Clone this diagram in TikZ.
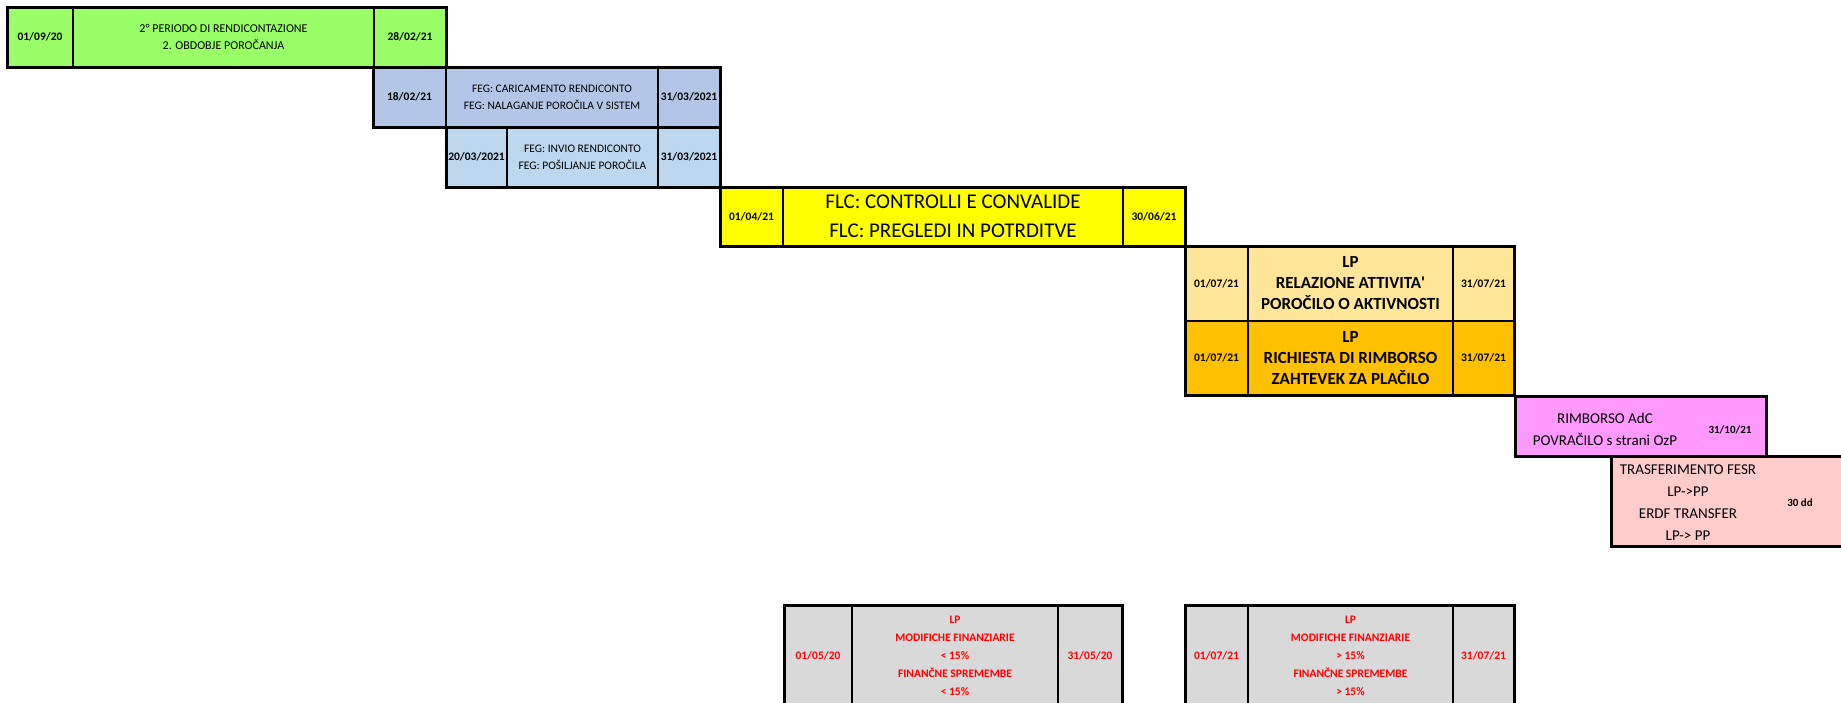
\documentclass[tikz,border=0pt]{standalone}
\usepackage{fontspec}
\setmainfont{Carlito}
\usetikzlibrary{positioning, fit}

\definecolor{cgreen}{HTML}{99FF66}
\definecolor{cblueA}{HTML}{B4C6E7}
\definecolor{cblueB}{HTML}{BDD7EE}
\definecolor{cyellow}{HTML}{FFFF00}
\definecolor{clorange}{HTML}{FFE699}
\definecolor{corange}{HTML}{FFC000}
\definecolor{cpink}{HTML}{FF99FF}
\definecolor{csalmon}{HTML}{FFCCCC}
\definecolor{cgrey}{HTML}{D9D9D9}
\definecolor{cred}{HTML}{FF0000}

\begin{document}
\begin{tikzpicture}[
  x=1pt, y=-1pt,
  cell/.style={draw, line width=1.5pt, inner sep=0pt, outer sep=0pt, align=center},
  frame/.style={draw, line width=3pt, inner sep=0pt},
  dat/.style={font=\fontsize{11.5}{14}\selectfont\bfseries},
  smalltxt/.style={font=\fontsize{11.5}{17}\selectfont},
  bigtxt/.style={font=\fontsize{21}{29}\selectfont},
  boldtxt/.style={font=\fontsize{17}{21}\selectfont\bfseries},
  midtxt/.style={font=\fontsize{15}{21.5}\selectfont},
  redtxt/.style={font=\fontsize{11.5}{18}\selectfont\bfseries, text=cred},
  greencell/.style={cell, fill=cgreen, minimum height=60pt},
  bluecellA/.style={cell, fill=cblueA, minimum height=60pt},
  bluecellB/.style={cell, fill=cblueB, minimum height=60pt},
  yellowcell/.style={cell, fill=cyellow, minimum height=59pt},
  lorangecell/.style={cell, fill=clorange, minimum height=75pt},
  orangecell/.style={cell, fill=corange, minimum height=74pt},
  greycell/.style={cell, fill=cgrey, minimum height=102pt}
]
\useasboundingbox (0,0) rectangle (1841,702);
\clip (0,0) rectangle (1841,702);

% reporting period
\node[greencell, dat, minimum width=66pt, anchor=north west] (g1) at (7,7) {01/09/20};
\node[greencell, font=\fontsize{12}{17}\selectfont, minimum width=301pt, right=0pt of g1] (g2) {2° PERIODO DI RENDICONTAZIONE\\2. OBDOBJE POROČANJA};
\node[greencell, dat, minimum width=72pt, right=0pt of g2] (g3) {28/02/21};
\node[frame, fit=(g1)(g3)] {};

% FEG upload
\node[bluecellA, dat, minimum width=73pt, anchor=north east] (b1) at (g3.south east) {18/02/21};
\node[bluecellA, smalltxt, minimum width=212pt, right=0pt of b1] (b2) {FEG: CARICAMENTO RENDICONTO\\FEG: NALAGANJE POROČILA V SISTEM};
\node[bluecellA, dat, minimum width=62pt, right=0pt of b2] (b3) {31/03/2021};
\node[frame, fit=(b1)(b3)] {};

% FEG submission
\node[bluecellB, dat, minimum width=61pt, anchor=north west] (c1) at (b2.south west) {20/03/2021};
\node[bluecellB, smalltxt, minimum width=151pt, right=0pt of c1] (c2) {FEG: INVIO RENDICONTO\\FEG: POŠILJANJE POROČILA};
\node[bluecellB, dat, minimum width=62pt, right=0pt of c2] (c3) {31/03/2021};
\node[frame, fit=(c1)(c3)] {};

% FLC
\node[yellowcell, dat, minimum width=63pt, anchor=north west] (y1) at (c3.south east) {01/04/21};
\node[yellowcell, bigtxt, minimum width=340pt, right=0pt of y1] (y2) {FLC: CONTROLLI E CONVALIDE\\FLC: PREGLEDI IN POTRDITVE};
\node[yellowcell, dat, minimum width=62pt, right=0pt of y2] (y3) {30/06/21};
\node[frame, fit=(y1)(y3)] {};

% LP reports
\node[lorangecell, dat, minimum width=63pt, anchor=north west] (o1) at (y3.south east) {01/07/21};
\node[lorangecell, boldtxt, minimum width=205pt, right=0pt of o1] (o2) {LP\\RELAZIONE ATTIVITA\textquotesingle\\POROČILO O AKTIVNOSTI};
\node[lorangecell, dat, minimum width=61pt, right=0pt of o2] (o3) {31/07/21};
\node[orangecell, dat, minimum width=63pt, below=0pt of o1] (r1) {01/07/21};
\node[orangecell, boldtxt, minimum width=205pt, right=0pt of r1] (r2) {LP\\RICHIESTA DI RIMBORSO\\ZAHTEVEK ZA PLAČILO};
\node[orangecell, dat, minimum width=61pt, right=0pt of r2] (r3) {31/07/21};
\node[frame, fit=(o1)(r3)] {};

% reimbursement
\node[frame, fill=cpink, minimum width=251pt, minimum height=60pt, anchor=north west] (p) at (r3.south east) {};
\node[midtxt, align=center] (ptxt) at ([xshift=91pt, yshift=-3pt]p.west) {RIMBORSO AdC\\POVRAČILO s strani OzP};
\node[dat, font=\fontsize{11}{13}\selectfont\bfseries] (pdat) at ([xshift=216pt, yshift=-3pt]p.west) {31/10/21};

% ERDF transfer
\node[frame, fill=csalmon, minimum width=260pt, minimum height=90pt, anchor=north west] (s) at (1610,455) {};
\node[midtxt, font=\fontsize{15}{22}\selectfont, align=center] (stxt) at ([xshift=78pt, yshift=-1pt]s.west) {TRASFERIMENTO FESR\\LP->PP\\ERDF TRANSFER\\LP-> PP};
\node[dat, font=\fontsize{11}{13}\selectfont\bfseries] (sdat) at ([xshift=190pt, yshift=-1pt]s.west) {30 dd};

% budget changes
\node[greycell, redtxt, minimum width=68pt, anchor=north west] (m1) at (784,605) {01/05/20};
\node[greycell, redtxt, minimum width=206pt, right=0pt of m1] (m2) {LP\\MODIFICHE FINANZIARIE\\< 15\%\\FINANČNE SPREMEMBE\\< 15\%};
\node[greycell, redtxt, minimum width=64pt, right=0pt of m2] (m3) {31/05/20};
\node[frame, fit=(m1)(m3)] {};

\node[greycell, redtxt, minimum width=63pt, anchor=north west] (n1) at (1185,605) {01/07/21};
\node[greycell, redtxt, minimum width=205pt, right=0pt of n1] (n2) {LP\\MODIFICHE FINANZIARIE\\> 15\%\\FINANČNE SPREMEMBE\\> 15\%};
\node[greycell, redtxt, minimum width=61pt, right=0pt of n2] (n3) {31/07/21};
\node[frame, fit=(n1)(n3)] {};
\end{tikzpicture}
\end{document}
